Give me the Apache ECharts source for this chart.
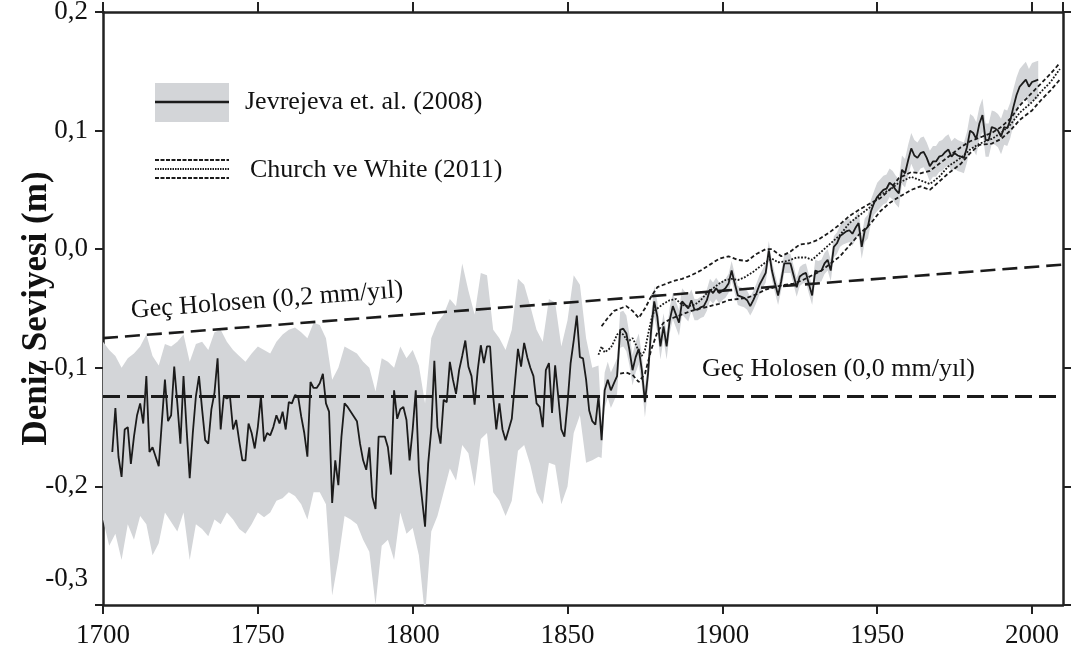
<!DOCTYPE html>
<html>
<head>
<meta charset="utf-8">
<title>Deniz Seviyesi</title>
<script src="https://cdn.jsdelivr.net/npm/echarts@6/dist/echarts.min.js"></script>
<style>
  html, body { margin: 0; padding: 0; background: #ffffff; }
  #chart { width: 1083px; height: 657px; }
</style>
</head>
<body>
<div id="chart"></div>
<script>
// ---- Jevrejeva et al. (2008): annual mean sea level (m), 1700..2002 ----
const FIRST_YEAR = 1700;
const jevSeaLevel = [
  // 1700s
  null, null, null, -0.171, -0.134, -0.175, -0.192, -0.152, -0.150, -0.181,
  // 1710s
  -0.158, -0.140, -0.130, -0.147, -0.107, -0.171, -0.167, -0.175, -0.183, -0.146,
  // 1720s
  -0.110, -0.145, -0.140, -0.099, -0.130, -0.164, -0.107, -0.152, -0.193, -0.155,
  // 1730s
  -0.124, -0.107, -0.135, -0.161, -0.164, -0.135, -0.121, -0.092, -0.152, -0.124,
  // 1740s
  -0.126, -0.124, -0.152, -0.144, -0.162, -0.178, -0.178, -0.147, -0.155, -0.168,
  // 1750s
  -0.150, -0.124, -0.162, -0.155, -0.157, -0.150, -0.140, -0.147, -0.137, -0.152,
  // 1760s
  -0.129, -0.130, -0.123, -0.124, -0.141, -0.155, -0.175, -0.112, -0.117, -0.117,
  // 1770s
  -0.113, -0.105, -0.130, -0.137, -0.214, -0.178, -0.199, -0.158, -0.130, -0.133,
  // 1780s
  -0.137, -0.141, -0.145, -0.164, -0.178, -0.186, -0.167, -0.209, -0.219, -0.158,
  // 1790s
  -0.158, -0.158, -0.167, -0.190, -0.119, -0.143, -0.135, -0.133, -0.144, -0.178,
  // 1800s
  -0.152, -0.119, -0.186, -0.210, -0.234, -0.181, -0.152, -0.094, -0.150, -0.164,
  // 1810s
  -0.127, -0.129, -0.095, -0.110, -0.122, -0.102, -0.090, -0.077, -0.099, -0.107,
  // 1820s
  -0.131, -0.102, -0.081, -0.096, -0.082, -0.082, -0.124, -0.152, -0.130, -0.152,
  // 1830s
  -0.161, -0.152, -0.143, -0.113, -0.084, -0.099, -0.079, -0.091, -0.100, -0.107,
  // 1840s
  -0.130, -0.133, -0.150, -0.102, -0.096, -0.138, -0.098, -0.124, -0.152, -0.158,
  // 1850s
  -0.130, -0.096, -0.077, -0.056, -0.091, -0.092, -0.110, -0.136, -0.145, -0.148,
  // 1860s
  -0.124, -0.161, -0.119, -0.110, -0.119, -0.113, -0.107, -0.068, -0.067, -0.071,
  // 1870s
  -0.085, -0.102, -0.091, -0.084, -0.102, -0.129, -0.105, -0.068, -0.044, -0.057,
  // 1880s
  -0.082, -0.065, -0.082, -0.060, -0.048, -0.055, -0.062, -0.044, -0.047, -0.050,
  // 1890s
  -0.043, -0.051, -0.051, -0.049, -0.048, -0.043, -0.034, -0.037, -0.033, -0.037,
  // 1900s
  -0.035, -0.033, -0.029, -0.018, -0.029, -0.039, -0.040, -0.041, -0.043, -0.048,
  // 1910s
  -0.043, -0.037, -0.030, -0.025, -0.020, -0.001, -0.018, -0.029, -0.039, -0.027,
  // 1920s
  -0.012, -0.012, -0.012, -0.022, -0.032, -0.023, -0.021, -0.020, -0.030, -0.039,
  // 1930s
  -0.018, -0.019, -0.018, -0.012, -0.009, -0.018, 0.002, 0.005, 0.011, 0.013,
  // 1940s
  0.015, 0.016, 0.013, 0.018, 0.022, 0.002, 0.016, 0.019, 0.032, 0.039,
  // 1950s
  0.044, 0.047, 0.050, 0.051, 0.056, 0.054, 0.050, 0.047, 0.067, 0.064,
  // 1960s
  0.075, 0.085, 0.079, 0.077, 0.081, 0.082, 0.077, 0.070, 0.074, 0.074,
  // 1970s
  0.078, 0.079, 0.082, 0.084, 0.078, 0.081, 0.079, 0.078, 0.077, 0.086,
  // 1980s
  0.100, 0.098, 0.093, 0.106, 0.113, 0.092, 0.092, 0.103, 0.102, 0.100,
  // 1990s
  0.095, 0.103, 0.102, 0.109, 0.120, 0.130, 0.137, 0.140, 0.143, 0.137,
  // 2000s
  0.141, 0.142, 0.143
];

// ---- uncertainty envelope, 1700..1860 every second year (m) ----
const earlyBandHigh = [
  -0.078, -0.085, -0.090, -0.100, -0.092, -0.088, -0.082, -0.072, -0.090, -0.098, // 1700-1718
  -0.080, -0.082, -0.078, -0.072, -0.095, -0.080, -0.078, -0.085, -0.070, -0.068, // 1720-1738
  -0.078, -0.085, -0.090, -0.095, -0.088, -0.082, -0.085, -0.088, -0.078, -0.072, // 1740-1758
  -0.068, -0.066, -0.070, -0.075, -0.062, -0.064, -0.075, -0.110, -0.100, -0.082, // 1760-1778
  -0.085, -0.088, -0.095, -0.100, -0.120, -0.092, -0.095, -0.100, -0.082, -0.092, // 1780-1798
  -0.085, -0.098, -0.130, -0.075, -0.062, -0.055, -0.042, -0.048, -0.012, -0.035, // 1800-1818
  -0.055, -0.020, -0.022, -0.068, -0.075, -0.085, -0.068, -0.025, -0.030, -0.048, // 1820-1838
  -0.068, -0.078, -0.042, -0.045, -0.082, -0.060, -0.022, -0.030, -0.075, -0.100, // 1840-1858
  -0.098                                                                          // 1860
];
const earlyBandLow = [
  -0.228, -0.250, -0.240, -0.262, -0.232, -0.245, -0.225, -0.232, -0.258, -0.248,
  -0.222, -0.230, -0.238, -0.222, -0.262, -0.232, -0.236, -0.242, -0.228, -0.232,
  -0.222, -0.228, -0.236, -0.240, -0.232, -0.222, -0.226, -0.222, -0.212, -0.210,
  -0.205, -0.208, -0.215, -0.228, -0.205, -0.205, -0.215, -0.292, -0.262, -0.225,
  -0.228, -0.232, -0.245, -0.255, -0.300, -0.250, -0.245, -0.262, -0.222, -0.240,
  -0.235, -0.258, -0.310, -0.238, -0.225, -0.205, -0.185, -0.195, -0.165, -0.172,
  -0.200, -0.160, -0.155, -0.205, -0.212, -0.225, -0.212, -0.170, -0.165, -0.182,
  -0.205, -0.215, -0.180, -0.182, -0.215, -0.200, -0.155, -0.140, -0.180, -0.178,
  -0.175
];
// half-width of the envelope after 1860, one value per decade (1860s..2000s)
const lateBandError = [0.015, 0.013, 0.011, 0.009, 0.008, 0.008, 0.008, 0.009,
                       0.010, 0.012, 0.013, 0.013, 0.014, 0.015, 0.016];

// ---- Church & White (2011): three reconstructions [year, m] ----
const cwDashedUpper = [
  [1861, -0.065], [1863, -0.058], [1865, -0.052], [1867, -0.050], [1869, -0.048],
  [1871, -0.052], [1873, -0.058], [1875, -0.050], [1877, -0.040], [1879, -0.032],
  [1881, -0.030], [1884, -0.027], [1887, -0.025], [1890, -0.022], [1893, -0.018],
  [1896, -0.013], [1899, -0.008], [1902, -0.006], [1905, -0.009], [1908, -0.010],
  [1911, -0.004], [1914, 0.000], [1916, 0.000], [1919, -0.006], [1922, -0.002],
  [1925, 0.004], [1928, 0.005], [1931, 0.008], [1935, 0.015], [1938, 0.021],
  [1941, 0.028], [1944, 0.033], [1948, 0.039], [1951, 0.043], [1954, 0.050],
  [1957, 0.060], [1961, 0.065], [1964, 0.064], [1967, 0.066], [1970, 0.072],
  [1973, 0.078], [1977, 0.086], [1980, 0.091], [1984, 0.095], [1987, 0.098],
  [1990, 0.103], [1993, 0.110], [1996, 0.121], [2000, 0.132], [2003, 0.140],
  [2006, 0.148], [2009, 0.157]
];
const cwDotted = [
  [1860, -0.089], [1861, -0.082], [1862, -0.087], [1863, -0.085], [1864, -0.083],
  [1865, -0.078], [1866, -0.072], [1867, -0.070], [1868, -0.072], [1869, -0.076],
  [1870, -0.077], [1871, -0.075], [1872, -0.080], [1873, -0.086], [1874, -0.090],
  [1875, -0.085], [1876, -0.072], [1877, -0.060], [1878, -0.052], [1879, -0.050],
  [1881, -0.046], [1883, -0.043], [1885, -0.042], [1887, -0.047], [1889, -0.048],
  [1891, -0.047], [1893, -0.043], [1895, -0.037], [1897, -0.033], [1899, -0.029],
  [1901, -0.026], [1903, -0.025], [1905, -0.026], [1907, -0.024], [1910, -0.019],
  [1912, -0.015], [1914, -0.011], [1916, -0.008], [1918, -0.011], [1921, -0.010],
  [1924, -0.007], [1927, -0.007], [1929, -0.009], [1932, -0.002], [1935, 0.005],
  [1938, 0.012], [1941, 0.022], [1944, 0.028], [1948, 0.036], [1951, 0.046],
  [1954, 0.050], [1957, 0.056], [1961, 0.061], [1964, 0.058], [1967, 0.055],
  [1970, 0.061], [1973, 0.070], [1977, 0.077], [1980, 0.084], [1983, 0.089],
  [1987, 0.093], [1990, 0.098], [1993, 0.105], [1996, 0.115], [2000, 0.124],
  [2003, 0.133], [2006, 0.141], [2009, 0.152]
];
const cwDashedLower = [
  [1867, -0.105], [1869, -0.104], [1871, -0.106], [1873, -0.112], [1875, -0.105],
  [1877, -0.085], [1879, -0.070], [1881, -0.062], [1884, -0.058], [1887, -0.055],
  [1890, -0.052], [1893, -0.050], [1896, -0.048], [1899, -0.046], [1902, -0.043],
  [1905, -0.042], [1908, -0.041], [1911, -0.038], [1914, -0.034], [1917, -0.032],
  [1920, -0.030], [1923, -0.029], [1926, -0.026], [1929, -0.022], [1932, -0.018],
  [1935, -0.012], [1938, -0.006], [1941, 0.003], [1944, 0.012], [1948, 0.022],
  [1951, 0.032], [1954, 0.039], [1957, 0.044], [1961, 0.050], [1964, 0.053],
  [1967, 0.050], [1970, 0.057], [1973, 0.064], [1977, 0.072], [1980, 0.081],
  [1983, 0.088], [1987, 0.089], [1990, 0.093], [1993, 0.100], [1996, 0.109],
  [2000, 0.117], [2003, 0.126], [2006, 0.134], [2009, 0.143]
];

// ---- Late Holocene reference trends [year, m] ----
const holocene02 = [[1700, -0.075], [2010, -0.013]];
const holocene00 = [[1700, -0.124], [2010, -0.124]];

// ---- axes ----
const X_MIN = 1700, X_MAX = 2010, X_STEP = 50;
const Y_MIN = -0.3, Y_MAX = 0.2, Y_STEP = 0.1;

const SERIF = '"Liberation Serif", "Times New Roman", serif';
const INK = '#1b1b1b';
const AXIS = '#222222';
const BAND = '#d3d5d8';

const jevPoints = jevSeaLevel.map((v, i) => [FIRST_YEAR + i, v]);
const earlyBandYears = earlyBandHigh.map((_, i) => 1700 + 2 * i);

function commaNumber(v) {
  return v.toFixed(1).replace('.', ',').replace('-0,0', '0,0');
}

const axisLineStyle = { show: true, onZero: false, lineStyle: { color: AXIS, width: 2.5 } };

const chart = echarts.init(document.getElementById('chart'), null, { renderer: 'canvas' });

chart.setOption({
  animation: false,
  backgroundColor: '#ffffff',
  textStyle: { fontFamily: SERIF },
  grid: { left: 103, right: 20, top: 12, bottom: 52, outerBoundsMode: 'none', containLabel: false },
  xAxis: [
    {
      type: 'value', position: 'bottom', min: X_MIN, max: X_MAX, interval: X_STEP,
      axisLine: axisLineStyle,
      axisTick: { show: true, inside: false, length: 9, lineStyle: { color: AXIS, width: 2 } },
      axisLabel: {
        show: true, margin: 17, color: '#111', fontFamily: SERIF, fontSize: 27,
        showMaxLabel: false,
        formatter: v => (v % X_STEP === 0 ? String(v) : '')
      },
      splitLine: { show: false }
    },
    {
      type: 'value', position: 'top', min: X_MIN, max: X_MAX, interval: X_STEP,
      axisLine: axisLineStyle,
      axisTick: { show: true, inside: false, length: 10, lineStyle: { color: AXIS, width: 2 } },
      axisLabel: { show: false },
      splitLine: { show: false }
    }
  ],
  yAxis: [
    {
      type: 'value', position: 'left', min: Y_MIN, max: Y_MAX, interval: Y_STEP,
      name: 'Deniz Seviyesi (m)', nameLocation: 'middle', nameGap: 49,
      nameMoveOverlap: false,
      nameTextStyle: { fontFamily: SERIF, fontSize: 35, fontWeight: 'bold', color: '#111' },
      axisLine: axisLineStyle,
      axisTick: { show: true, inside: false, length: 8, lineStyle: { color: AXIS, width: 2 } },
      axisLabel: {
        show: true, margin: 15, color: '#111', fontFamily: SERIF, fontSize: 27,
        formatter: v => (Math.abs(v - Y_MIN) < 1e-9 ? '{low|' + commaNumber(v) + '}' : commaNumber(v)),
        rich: { low: { fontFamily: SERIF, fontSize: 27, color: '#111', padding: [0, 0, 52, 0] } }
      },
      splitLine: { show: false }
    },
    {
      type: 'value', position: 'right', min: Y_MIN, max: Y_MAX, interval: Y_STEP,
      axisLine: axisLineStyle,
      axisTick: { show: true, inside: false, length: 8, lineStyle: { color: AXIS, width: 2 } },
      axisLabel: { show: false },
      splitLine: { show: false }
    }
  ],
  series: [
    {
      // grey uncertainty envelope of the Jevrejeva curve
      name: 'Jevrejeva band',
      type: 'custom',
      coordinateSystem: 'cartesian2d',
      clip: true,
      silent: true,
      z: 1,
      data: [[1850, -0.1]],
      encode: { x: 0, y: 1 },
      renderItem: function (params, api) {
        const top = [];
        const bottom = [];
        earlyBandYears.forEach((y, i) => {
          top.push(api.coord([y, earlyBandHigh[i]]));
          bottom.push(api.coord([y, earlyBandLow[i]]));
        });
        for (let y = 1861; y < FIRST_YEAR + jevSeaLevel.length; y++) {
          const v = jevSeaLevel[y - FIRST_YEAR];
          const e = lateBandError[Math.floor(y / 10) - 186];
          top.push(api.coord([y, v + e]));
          bottom.push(api.coord([y, v - e]));
        }
        return {
          type: 'polygon',
          shape: { points: top.concat(bottom.reverse()) },
          style: { fill: BAND, stroke: null }
        };
      }
    },
    {
      // Late Holocene reference lines
      name: 'Geç Holosen',
      type: 'line',
      data: [],
      silent: true,
      z: 3,
      markLine: {
        silent: true,
        symbol: 'none',
        animation: false,
        data: [
          [
            {
              coord: holocene02[0],
              lineStyle: { color: INK, width: 2.6, type: [15, 7] },
              label: {
                show: true, position: 'insideStartTop', distance: [30, 12],
                formatter: 'Geç Holosen (0,2 mm/yıl)',
                color: '#111', fontFamily: SERIF, fontSize: 26
              }
            },
            { coord: holocene02[1] }
          ],
          [
            {
              coord: holocene00[0],
              lineStyle: { color: INK, width: 3, type: [17, 7] },
              label: {
                show: true, position: 'insideEndTop', distance: [88, 14],
                formatter: 'Geç Holosen (0,0 mm/yıl)',
                color: '#111', fontFamily: SERIF, fontSize: 26
              }
            },
            { coord: holocene00[1] }
          ]
        ]
      }
    },
    {
      name: 'Church ve White (2011) a',
      type: 'line', data: cwDashedUpper, showSymbol: false, silent: true, z: 4,
      lineStyle: { color: INK, width: 1.8, type: [4, 2.5] }
    },
    {
      name: 'Church ve White (2011) b',
      type: 'line', data: cwDotted, showSymbol: false, silent: true, z: 4,
      lineStyle: { color: INK, width: 1.8, type: [1.8, 1.6] }
    },
    {
      name: 'Church ve White (2011) c',
      type: 'line', data: cwDashedLower, showSymbol: false, silent: true, z: 4,
      lineStyle: { color: INK, width: 1.8, type: [4, 2.5] }
    },
    {
      name: 'Jevrejeva et. al. (2008)',
      type: 'line', data: jevPoints, showSymbol: false, silent: true, z: 5,
      connectNulls: false,
      lineStyle: { color: INK, width: 1.8 }
    }
  ],
  graphic: [
    // legend: band with line
    { type: 'rect', shape: { x: 155, y: 83, width: 74, height: 39 }, style: { fill: BAND } },
    { type: 'line', shape: { x1: 155, y1: 102, x2: 229, y2: 102 }, style: { stroke: INK, lineWidth: 2.5 } },
    {
      type: 'text', x: 245, y: 102,
      style: { text: 'Jevrejeva et. al. (2008)', font: '26px ' + SERIF, fill: '#111', verticalAlign: 'middle' }
    },
    // legend: three Church & White lines
    { type: 'line', shape: { x1: 155, y1: 160, x2: 229, y2: 160 }, style: { stroke: INK, lineWidth: 2.2, lineDash: [4, 1.5] } },
    { type: 'line', shape: { x1: 155, y1: 169, x2: 229, y2: 169 }, style: { stroke: INK, lineWidth: 2.2, lineDash: [1.5, 1] } },
    { type: 'line', shape: { x1: 155, y1: 178, x2: 229, y2: 178 }, style: { stroke: INK, lineWidth: 2.2, lineDash: [4, 1.5] } },
    {
      type: 'text', x: 250, y: 170,
      style: { text: 'Church ve White (2011)', font: '26px ' + SERIF, fill: '#111', verticalAlign: 'middle' }
    }
  ]
});
</script>
</body>
</html>
